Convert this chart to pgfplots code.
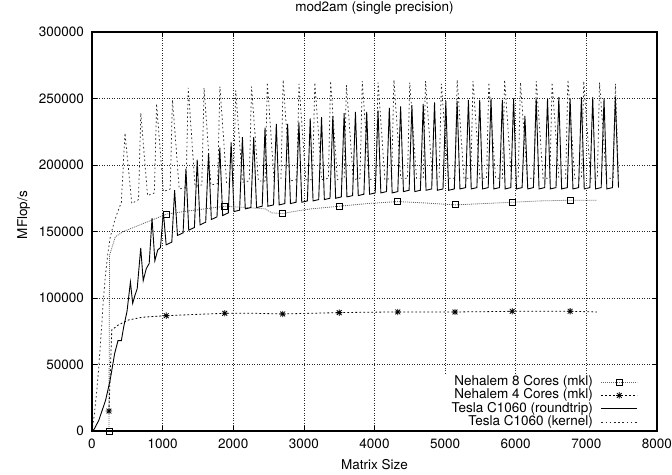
\documentclass[border=0pt]{standalone}
\usepackage{fontspec}
\setmainfont{TeX Gyre Heros}
\usepackage{pgfplots}
\pgfplotsset{compat=1.18}

% gnuplot style point type 3 (plus and cross)
\pgfdeclareplotmark{gpstar}{%
  \pgfpathmoveto{\pgfqpoint{-\pgfplotmarksize}{0pt}}%
  \pgfpathlineto{\pgfqpoint{\pgfplotmarksize}{0pt}}%
  \pgfpathmoveto{\pgfqpoint{0pt}{-\pgfplotmarksize}}%
  \pgfpathlineto{\pgfqpoint{0pt}{\pgfplotmarksize}}%
  \pgfpathmoveto{\pgfqpoint{-0.75\pgfplotmarksize}{-0.75\pgfplotmarksize}}%
  \pgfpathlineto{\pgfqpoint{0.75\pgfplotmarksize}{0.75\pgfplotmarksize}}%
  \pgfpathmoveto{\pgfqpoint{-0.75\pgfplotmarksize}{0.75\pgfplotmarksize}}%
  \pgfpathlineto{\pgfqpoint{0.75\pgfplotmarksize}{-0.75\pgfplotmarksize}}%
  \pgfusepathqstroke}

\tikzset{
  neh8/.style={black!60, line width=0.8bp, dash pattern=on 1bp off 1bp},
  neh4/.style={black, line width=0.8bp, dash pattern=on 1.8bp off 2.2bp},
  tround/.style={black, line width=0.9bp},
  tkern/.style={black!85, line width=0.75bp, dash pattern=on 1.6bp off 2.6bp},
}

\begin{document}
\begin{tikzpicture}[font=\fontsize{13.5bp}{16bp}\selectfont]
\begin{axis}[
    scale only axis,
    width=565bp, height=399bp,
    xmin=0, xmax=8000, ymin=0, ymax=300000,
    xtick={0,1000,...,8000},
    ytick={0,50000,100000,150000,200000,250000,300000},
    scaled ticks=false,
    /pgf/number format/.cd, fixed, 1000 sep={}, assume math mode=true,
    /pgfplots/.cd,
    tick align=inside,
    major tick length=5bp,
    tick style={black, line width=0.6bp},
    axis line style={black, line width=1.2bp},
    axis on top,
    grid=major,
    grid style={black!85, line width=0.6bp, dash pattern=on 0.7bp off 1.8bp},
    xticklabel style={anchor=base, inner sep=0pt, yshift=-18bp},
    yticklabel style={anchor=east, inner sep=0pt, xshift=-8bp},
    title={mod2am (single precision)},
    title style={at={(axis description cs:0.5,1)}, anchor=base, yshift=14.5bp, inner sep=0pt},
    xlabel={Matrix Size},
    xlabel style={at={(axis description cs:0.5,0)}, anchor=base, yshift=-39bp, inner sep=0pt},
    ylabel={MFlop/s},
    ylabel style={at={(axis description cs:-0.115,0.541)}, anchor=base, inner sep=0pt},
    legend style={at={(axis description cs:1,0)}, anchor=south east,
                  xshift=-7bp, yshift=0.6bp, draw=none, fill=white,
                  inner xsep=12bp, inner ysep=1.4bp,
                  row sep=0.8bp, column sep=8bp,
                  nodes={inner sep=0pt, text height=9.6bp, text depth=3.1bp}},
    legend cell align=right,
    legend plot pos=right,
    legend image code/.code={%
        \draw[#1] (0bp,0bp) -- (36bp,0bp);},
]

% Nehalem 8 cores (mkl): line, then marks
\addplot[neh8, forget plot] coordinates {
    (240,0) (248,132000) (330,146000) (444,150000) (680,155000) (916,160000)
    (1050,163000) (1300,165000) (1600,167000) (1880,169000) (2200,168000)
    (2450,167000) (2550,164000) (2700,163500) (2850,165000) (3100,167000)
    (3500,169000) (3900,171000) (4330,172500) (4700,171500) (5140,170000)
    (5550,171000) (5950,172000) (6350,173000) (6770,173500) (7150,173500)
};
\addplot[only marks, mark=square, mark size=3bp, black, line width=0.8bp,
    legend image code/.code={%
        \draw[neh8] (0bp,0bp) -- (36bp,0bp);
        \draw[black, line width=0.8bp] plot[mark=square, mark size=3bp] coordinates {(18bp,0bp)};}]
    coordinates {
    (240,0) (1050,163000) (1880,169000) (2700,163500) (3500,169000)
    (4330,172500) (5140,170000) (5950,172000) (6770,173500)
};
\addlegendentry{Nehalem 8 Cores (mkl)}

% Nehalem 4 cores (mkl)
\addplot[neh4, forget plot] coordinates {
    (240,15000) (280,76000) (380,80000) (520,83500) (710,85500) (1050,86700)
    (1400,87500) (1880,88500) (2300,88500) (2700,88000) (3100,88500)
    (3500,89000) (3900,89300) (4330,89500) (4730,89500) (5140,89500)
    (5550,89700) (5950,90000) (6350,90000) (6770,90000) (7150,89500)
};
\addplot[only marks, mark=gpstar, mark size=3.2bp, black, line width=0.8bp,
    legend image code/.code={%
        \draw[neh4] (0bp,0bp) -- (36bp,0bp);
        \draw[black, line width=0.8bp] plot[mark=gpstar, mark size=3.2bp] coordinates {(18bp,0bp)};}]
    coordinates {
    (240,15000) (1050,86700) (1880,88500) (2700,88000) (3500,89000)
    (4330,89500) (5140,89500) (5950,90000) (6770,90000)
};
\addlegendentry{Nehalem 4 Cores (mkl)}

% Tesla C1060 roundtrip
\addplot[tround] coordinates {
    (0,0) (32,1500) (96,8000) (192,23000) (256,38000) (320,58000)
    (368,68000) (416,68000) (448,78000) (496,90000) (544,112000)
    (576,96000) (608,102000) (640,107000)
    (690,137600) (725,113000) (768,122000) (810,126000)
    (850,160000) (890,128000) (930,136000) (970,138000)
    (1010,165000) (1050,140000) (1130,142000)
    (1170,181000) (1210,147000) (1290,149000)
    (1330,197000) (1370,151000) (1450,153000)
    (1490,204000) (1530,155000) (1610,157000)
    (1650,209000) (1690,159000) (1770,161000)
    (1810,213000) (1850,162000) (1930,164000)
    (1970,217000) (2010,165000) (2090,166000)
    (2130,221000) (2170,167000) (2250,168000)
    (2290,221000) (2330,168000) (2410,169000)
    (2450,228000) (2490,169000) (2570,170000)
    (2610,231000) (2650,170000) (2730,171000)
    (2770,231000) (2810,171000) (2890,172000)
    (2930,232000) (2970,172000) (3050,173000)
    (3090,235000) (3130,173000) (3210,174000)
    (3250,236000) (3290,174000) (3370,175000)
    (3410,237000) (3450,175000) (3530,176000)
    (3570,239000) (3610,176000) (3690,177000)
    (3730,240000) (3770,177000) (3850,178000)
    (3890,240000) (3930,178000) (4010,179000)
    (4050,241000) (4090,179000) (4170,180000)
    (4210,243000) (4250,179000) (4330,180000)
    (4370,244000) (4410,180000) (4490,181000)
    (4530,245000) (4570,180000) (4650,181000)
    (4690,246000) (4730,181000) (4810,182000)
    (4850,247000) (4890,181000) (4970,182000)
    (5010,248000) (5050,181000) (5130,182000)
    (5170,248000) (5210,182000) (5290,183000)
    (5330,249000) (5370,182000) (5450,183000)
    (5490,249000) (5530,182000) (5610,183000)
    (5650,250000) (5690,182000) (5770,183000)
    (5810,249000) (5850,182000) (5930,183000)
    (5970,250000) (6010,182000) (6090,183000)
    (6130,237000) (6170,182000) (6250,183000)
    (6290,250000) (6330,182000) (6410,183000)
    (6450,250000) (6490,182000) (6570,183000)
    (6610,251000) (6650,182000) (6730,183000)
    (6770,250000) (6810,182000) (6890,183000)
    (6930,251000) (6970,182000) (7050,183000)
    (7090,251000) (7130,182000) (7210,183000)
    (7250,250000) (7290,182000) (7370,183000)
    (7410,251000) (7455,183000)
};
\addlegendentry{Tesla C1060 (roundtrip)}

% Tesla C1060 kernel
\addplot[tkern] coordinates {
    (0,0) (32,12000) (64,28000) (96,48000) (128,72000) (160,98000)
    (192,118000) (224,133000) (256,145000) (288,152000) (320,158000)
    (352,163000) (416,172000)
    (467,224000) (515,198000) (563,171000) (659,174000)
    (691,239000) (739,208000) (787,177000) (883,179000)
    (915,246000) (963,213000) (1011,180000) (1107,182000)
    (1139,249000) (1187,216000) (1235,182000) (1331,183000)
    (1363,258000) (1411,221000) (1459,184000) (1555,185000)
    (1587,258000) (1635,222000) (1683,185000) (1779,186000)
    (1811,259000) (1859,223000) (1907,186000) (2003,187000)
    (2035,256000) (2083,222000) (2131,187000) (2227,188000)
    (2259,259000) (2307,224000) (2355,188000) (2451,188000)
    (2483,262000) (2531,225000) (2579,188000) (2675,189000)
    (2707,264000) (2755,226000) (2803,188000) (2899,189000)
    (2931,261000) (2979,225000) (3027,189000) (3123,189000)
    (3155,262000) (3203,226000) (3251,189000) (3347,190000)
    (3379,263000) (3427,226000) (3475,189000) (3571,190000)
    (3603,260000) (3651,225000) (3699,189000) (3795,190000)
    (3827,263000) (3875,226000) (3923,189000) (4019,190000)
    (4051,262000) (4099,226000) (4147,189000) (4243,190000)
    (4275,264000) (4323,227000) (4371,190000) (4467,190000)
    (4499,262000) (4547,226000) (4595,190000) (4691,190000)
    (4723,263000) (4771,227000) (4819,190000) (4915,190000)
    (4947,261000) (4995,226000) (5043,190000) (5139,190000)
    (5171,264000) (5219,227000) (5267,190000) (5363,190000)
    (5395,263000) (5443,227000) (5491,190000) (5587,190000)
    (5619,262000) (5667,226000) (5715,190000) (5811,190000)
    (5843,264000) (5891,227000) (5939,190000) (6035,190000)
    (6067,262000) (6115,226000) (6163,190000) (6259,190000)
    (6291,263000) (6339,227000) (6387,190000) (6483,190000)
    (6515,262000) (6563,226000) (6611,190000) (6707,190000)
    (6739,264000) (6787,227000) (6835,190000) (6931,190000)
    (6963,263000) (7011,227000) (7059,190000) (7155,190000)
    (7187,262000) (7235,226000) (7283,190000) (7379,190000)
    (7411,261000) (7455,190000)
};
\addlegendentry{Tesla C1060 (kernel)}

\end{axis}
\path (-92bp,-44bp) rectangle (580bp,431bp);
\end{tikzpicture}
\end{document}
